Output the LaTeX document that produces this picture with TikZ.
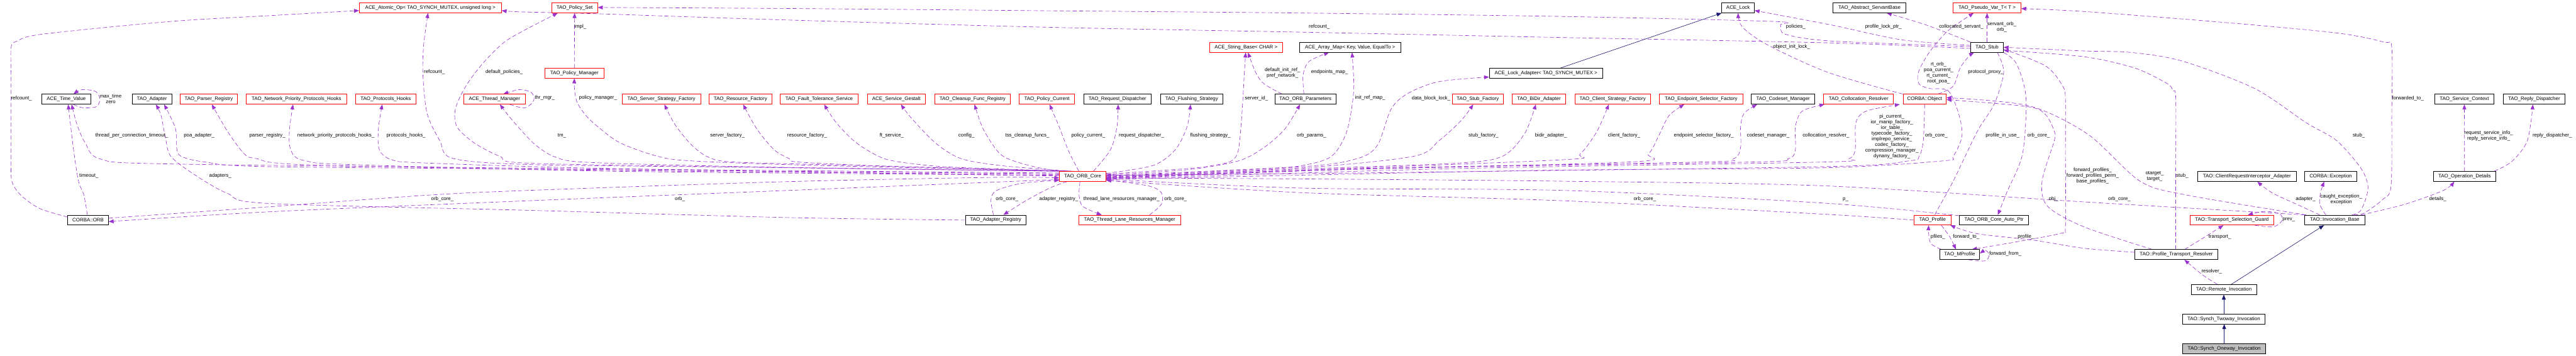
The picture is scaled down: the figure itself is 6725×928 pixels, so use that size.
\documentclass[tikz,border=0pt]{standalone}
\usepackage{fontspec}
\setmainfont{Liberation Sans}
\usetikzlibrary{arrows.meta,calc}
\pgfdeclarelayer{edges}
\pgfsetlayers{edges,main}
\definecolor{depc}{RGB}{154,50,205}
\definecolor{inhc}{RGB}{25,25,112}
\definecolor{greyfill}{RGB}{191,191,191}
\tikzset{
  box/.style={draw=black, line width=1.1pt, fill=white, rectangle, minimum height=26pt, inner xsep=1pt, inner ysep=0pt, font=\fontsize{13}{15}\selectfont, text=black},
  rbox/.style={box, draw=red},
  gbox/.style={box, fill=greyfill},
  dep/.style={draw=depc, line width=1.05pt, dash pattern=on 11pt off 6pt, -{Triangle[length=13pt,width=10pt]}},
  inh/.style={draw=inhc, line width=1.05pt, -{Triangle[length=13pt,width=10pt]}},
  lbl/.style={font=\fontsize{13}{14.8}\selectfont, inner sep=0pt, align=center, text=black},
}
\newcommand{\dedge}[1]{\draw[dep] plot[smooth,tension=0.5] coordinates {#1};}
\begin{document}
\begin{tikzpicture}[x=1pt,y=-1pt]
\useasboundingbox (0,0) rectangle (6725,928);
% ---------- row 0
\node[rbox,minimum width=371pt] (atomic) at (1123.5,20.5) {ACE\_Atomic\_Op< TAO\_SYNCH\_MUTEX, unsigned long >};
\node[rbox,minimum width=120pt] (pset) at (1500,20.5) {TAO\_Policy\_Set};
\node[box,minimum width=85pt] (acelock) at (4537.5,20.5) {ACE\_Lock};
\node[box,minimum width=191pt] (servant) at (4880.5,20.5) {TAO\_Abstract\_ServantBase};
\node[rbox,minimum width=177pt] (pvar) at (5187.5,20.5) {TAO\_Pseudo\_Var\_T< T >};
% ---------- row 1
\node[rbox,minimum width=192pt] (strbase) at (3253,123.5) {ACE\_String\_Base< CHAR >};
\node[box,minimum width=265pt] (amap) at (3524.5,123.5) {ACE\_Array\_Map< Key, Value, EqualTo >};
\node[box,minimum width=85pt] (stub) at (5187.5,123.5) {TAO\_Stub};
% ---------- row 2
\node[rbox,minimum width=153pt] (pmgr) at (1499.5,191) {TAO\_Policy\_Manager};
\node[box,minimum width=296pt] (lockad) at (4036,191) {ACE\_Lock\_Adapter< TAO\_SYNCH\_MUTEX >};
% ---------- row 3
\node[box,minimum width=128pt] (tv) at (173,259) {ACE\_Time\_Value};
\node[box,minimum width=103pt] (adapter) at (396.5,259) {TAO\_Adapter};
\node[rbox,minimum width=150pt] (parser) at (545,259) {TAO\_Parser\_Registry};
\node[rbox,minimum width=262pt] (nethooks) at (774,259) {TAO\_Network\_Priority\_Protocols\_Hooks};
\node[rbox,minimum width=156pt] (phooks) at (1007,259) {TAO\_Protocols\_Hooks};
\node[rbox,minimum width=160pt] (thrmgr) at (1291,259) {ACE\_Thread\_Manager};
\node[rbox,minimum width=205pt] (ssf) at (1726.5,259) {TAO\_Server\_Strategy\_Factory};
\node[rbox,minimum width=164pt] (resf) at (1933,259) {TAO\_Resource\_Factory};
\node[rbox,minimum width=203pt] (fts) at (2138.5,259) {TAO\_Fault\_Tolerance\_Service};
\node[rbox,minimum width=152pt] (gestalt) at (2340,259) {ACE\_Service\_Gestalt};
\node[rbox,minimum width=198pt] (cleanup) at (2539,259) {TAO\_Cleanup\_Func\_Registry};
\node[rbox,minimum width=144pt] (pcur) at (2733,259) {TAO\_Policy\_Current};
\node[box,minimum width=176pt] (reqd) at (2917,259) {TAO\_Request\_Dispatcher};
\node[box,minimum width=164pt] (flush) at (3111,259) {TAO\_Flushing\_Strategy};
\node[box,minimum width=160pt] (oparams) at (3408,259) {TAO\_ORB\_Parameters};
\node[rbox,minimum width=134pt] (stubf) at (3858,259) {TAO\_Stub\_Factory};
\node[rbox,minimum width=139pt] (bidir) at (4017.5,259) {TAO\_BiDir\_Adapter};
\node[rbox,minimum width=198pt] (csf) at (4210,259) {TAO\_Client\_Strategy\_Factory};
\node[rbox,minimum width=218pt] (esf) at (4441,259) {TAO\_Endpoint\_Selector\_Factory};
\node[box,minimum width=166pt] (codeset) at (4655,259) {TAO\_Codeset\_Manager};
\node[rbox,minimum width=182pt] (colres) at (4852,259) {TAO\_Collocation\_Resolver};
\node[rbox,minimum width=113pt] (object) at (5024.5,259) {CORBA::Object};
\node[box,minimum width=155pt] (svcctx) at (6433.5,259) {TAO\_Service\_Context};
\node[box,minimum width=161pt] (replyd) at (6615.5,259) {TAO\_Reply\_Dispatcher};
% ---------- row 4
\node[rbox,minimum width=121pt] (core) at (2826.5,460.5) {TAO\_ORB\_Core};
\node[box,minimum width=258pt] (cria) at (5866,460.5) {TAO::ClientRequestInterceptor\_Adapter};
\node[box,minimum width=135pt] (exc) at (6084.5,460.5) {CORBA::Exception};
\node[box,minimum width=164pt] (opdet) at (6434,460.5) {TAO\_Operation\_Details};
% ---------- row 5
\node[box,minimum width=106pt] (orb) at (230,574.5) {CORBA::ORB};
\node[box,minimum width=159pt] (areg) at (2599.5,574.5) {TAO\_Adapter\_Registry};
\node[rbox,minimum width=266pt] (tlrm) at (2949,574.5) {TAO\_Thread\_Lane\_Resources\_Manager};
\node[rbox,minimum width=96pt] (profile) at (5045,574.5) {TAO\_Profile};
\node[box,minimum width=181pt] (autoptr) at (5205.5,574.5) {TAO\_ORB\_Core\_Auto\_Ptr};
\node[rbox,minimum width=219pt] (tsg) at (5826.5,574.5) {TAO::Transport\_Selection\_Guard};
\node[box,minimum width=156pt] (invb) at (6095,574.5) {TAO::Invocation\_Base};
% ---------- rows 6-9
\node[box,minimum width=104pt] (mprof) at (5116,664.5) {TAO\_MProfile};
\node[box,minimum width=217pt] (ptr) at (5681.5,664.5) {TAO::Profile\_Transport\_Resolver};
\node[box,minimum width=171pt] (remote) at (5805.5,755.5) {TAO::Remote\_Invocation};
\node[box,minimum width=215pt] (twoway) at (5805.5,832.5) {TAO::Synch\_Twoway\_Invocation};
\node[gbox,minimum width=217pt] (oneway) at (5806.5,910.5) {TAO::Synch\_Oneway\_Invocation};

% ---------- edge labels
\node[lbl] (lb1) at (344,354) {thread\_per\_connection\_timeout\_};
\node[lbl] (lb2) at (520,354) {poa\_adapter\_};
\node[lbl] (lb3) at (698,354) {parser\_registry\_};
\node[lbl] (lb4) at (877,354) {network\_priority\_protocols\_hooks\_};
\node[lbl] (lb5) at (1060,354) {protocols\_hooks\_};
\node[lbl] (lb6) at (1134,188) {refcount\_};
\node[lbl] (lb7) at (1316,188) {default\_policies\_};
\node[lbl] (lb8) at (1422,256) {thr\_mgr\_};
\node[lbl] (lb9) at (1467,354) {tm\_};
\node[lbl] (lb10) at (1515,70) {impl\_};
\node[lbl] (lb11) at (1561,256) {policy\_manager\_};
\node[lbl] (lb12) at (1899,354) {server\_factory\_};
\node[lbl] (lb13) at (2107,354) {resource\_factory\_};
\node[lbl] (lb14) at (2328,354) {ft\_service\_};
\node[lbl] (lb15) at (2523,354) {config\_};
\node[lbl] (lb16) at (2682,354) {tss\_cleanup\_funcs\_};
\node[lbl] (lb17) at (2841,354) {policy\_current\_};
\node[lbl] (lb18) at (2980,354) {request\_dispatcher\_};
\node[lbl] (lb19) at (3160,354) {flushing\_strategy\_};
\node[lbl] (lb20) at (3280,256) {server\_id\_};
\node[lbl] (lb21) at (3348,190) {default\_init\_ref\_\\pref\_network\_};
\node[lbl] (lb22) at (3471,188) {endpoints\_map\_};
\node[lbl] (lb23) at (3577,256) {init\_ref\_map\_};
\node[lbl] (lb24) at (3424,354) {orb\_params\_};
\node[lbl] (lb25) at (3736,256) {data\_block\_lock\_};
\node[lbl] (lb26) at (3873,354) {stub\_factory\_};
\node[lbl] (lb27) at (4049,354) {bidir\_adapter\_};
\node[lbl] (lb28) at (4240,354) {client\_factory\_};
\node[lbl] (lb29) at (4448,354) {endpoint\_selector\_factory\_};
\node[lbl] (lb30) at (4616,354) {codeset\_manager\_};
\node[lbl] (lb31) at (4767,354) {collocation\_resolver\_};
\node[lbl] (lb32) at (4939,355.5) {pi\_current\_\\ior\_manip\_factory\_\\ior\_table\_\\typecode\_factory\_\\implrepo\_service\_\\codec\_factory\_\\compression\_manager\_\\dynany\_factory\_};
\node[lbl] (lb33) at (5055,354) {orb\_core\_};
\node[lbl] (lb34) at (5061,190) {rt\_orb\_\\poa\_current\_\\rt\_current\_\\root\_poa\_};
\node[lbl] (lb35) at (5120,70) {collocated\_servant\_};
\node[lbl] (lb36) at (5226,71) {servant\_orb\_\\orb\_};
\node[lbl] (lb37) at (4917,70) {profile\_lock\_ptr\_};
\node[lbl] (lb38) at (4688,70) {policies\_};
\node[lbl] (lb39) at (3444,70) {refcount\_};
\node[lbl] (lb40) at (4677,122) {object\_init\_lock\_};
\node[lbl] (lb41) at (5184,188) {protocol\_proxy\_};
\node[lbl] (lb42) at (5228,354) {profile\_in\_use\_};
\node[lbl] (lb43) at (5322,354) {orb\_core\_};
\node[lbl] (lb44) at (5463,459.5) {forward\_profiles\_\\forward\_profiles\_perm\_\\base\_profiles\_};
\node[lbl] (lb45) at (5361,520) {obj\_};
\node[lbl] (lb46) at (5625,460) {otarget\_\\target\_};
\node[lbl] (lb47) at (5697,459) {stub\_};
\node[lbl] (lb48) at (6158,354) {stub\_};
\node[lbl] (lb49) at (6286,256) {forwarded\_to\_};
\node[lbl] (lb50) at (5533,520) {orb\_core\_};
\node[lbl] (lb51) at (4818,520) {p\_};
\node[lbl] (lb52) at (4294,520) {orb\_core\_};
\node[lbl] (lb53) at (6019,520) {adapter\_};
\node[lbl] (lb54) at (6112,521) {caught\_exception\_\\exception};
\node[lbl] (lb55) at (6364,520) {details\_};
\node[lbl] (lb56) at (6497,355) {request\_service\_info\_\\reply\_service\_info\_};
\node[lbl] (lb57) at (6663,354) {reply\_dispatcher\_};
\node[lbl] (lb58) at (5975,573) {prev\_};
\node[lbl] (lb59) at (5795,618) {transport\_};
\node[lbl] (lb60) at (5289,618) {profile\_};
\node[lbl] (lb61) at (5059,618) {pfiles\_};
\node[lbl] (lb62) at (5133,618) {forward\_to\_};
\node[lbl] (lb63) at (5235,663) {forward\_from\_};
\node[lbl] (lb64) at (5774,708) {resolver\_};
\node[lbl] (lb65) at (56,256) {refcount\_};
\node[lbl] (lb66) at (289,257.5) {max\_time\\zero};
\node[lbl] (lb67) at (232,459) {timeout\_};
\node[lbl] (lb68) at (575,459) {adapters\_};
\node[lbl] (lb69) at (1155,520) {orb\_core\_};
\node[lbl] (lb70) at (1775,520) {orb\_};
\node[lbl] (lb71) at (2764,520) {adapter\_registry\_};
\node[lbl] (lb72) at (2629,520) {orb\_core\_};
\node[lbl] (lb73) at (2928,520) {thread\_lane\_resources\_manager\_};
\node[lbl] (lb74) at (3069,520) {orb\_core\_};

\begin{pgfonlayer}{edges}
% ORB_Core fan to the left
\dedge{($(core.west)+(0,-9)$) (1600,441) (446,428) (262,415) (222,372) (201,325) ($(tv.south)+(14,0)$)}
\dedge{($(core.west)+(0,-7)$) (1600,443) (700,435) (536,423) (473,408) (461,385) (458,335) ($(adapter.south)+(32,0)$)}
\dedge{($(core.west)+(0,-5)$) (1600,445) (800,430) (670,414) (638,402) (594,343) ($(parser.south)+(8,0)$)}
\dedge{($(core.west)+(0,-3)$) (1600,447) (900,429) (800,420) (769,408) (756,380) (756,335) ($(nethooks.south)+(-9,0)$)}
\dedge{($(core.west)+(0,-1)$) (1600,440) (1100,425) (1020,416) (990,390) (988,335) ($(phooks.south)+(-9,0)$)}
\dedge{($(core.north west)+(4,0)$) (2000,437) (1400,430) (1184,414) (1148,367) (1115,296) (1104,195) (1106,118) ($(atomic.south)+(-6,0)$)}
\dedge{($(core.north west)+(8,0)$) (2000,437) (1380,426) (1305,408) (1238,373) (1193,331) (1189,284) (1216,225) (1260,166) (1314,112) (1367,80) ($(pset.south)+(-44,0)$)}
\dedge{($(core.north west)+(12,0)$) (2000,436) (1540,424) (1450,410) (1400,380) (1365,345) (1330,305) ($(thrmgr.south)+(14,0)$)}
\dedge{($(thrmgr.south)+(40,0)$) (1368,282) (1390,268) (1394,254) (1385,240) (1355,234) ($(thrmgr.north)+(23,0)$)}
\dedge{($(core.north west)+(16,0)$) (2100,431) (1806,420) (1717,408) (1619,373) (1561,331) (1530,302) (1507,268) (1500,235) (pmgr.south)}
\draw[dep] (pmgr.north) -- (pset.south);
\dedge{($(core.north west)+(20,0)$) (2200,431) (1918,423) (1851,411) (1806,379) (1762,325) ($(ssf.south)+(8,0)$)}
\dedge{($(core.north west)+(24,0)$) (2300,433) (2085,423) (2060,414) (2021,391) (1976,337) ($(resf.south)+(7,0)$)}
\dedge{($(core.north west)+(28,0)$) (2500,437) (2397,429) (2308,414) (2236,373) (2183,320) ($(fts.south)+(13,0)$)}
\dedge{($(core.north west)+(32,0)$) (2620,433) (2509,414) (2442,373) (2379,308) ($(gestalt.south)+(12,0)$)}
\dedge{($(core.north west)+(38,0)$) (2740,443) (2665,426) (2611,402) (2567,337) ($(cleanup.south)+(5,0)$)}
\dedge{($(core.north)+(-10,0)$) (2790,395) (2765,331) ($(pcur.south)+(7,0)$)}
% ORB_Core fan to the right
\dedge{($(core.north)+(28,0)$) (2899,391) (2916,331) ($(reqd.south)+(2,0)$)}
\dedge{($(core.east)+(0,-8)$) (3010,432) (3068,391) (3099,331) ($(flush.south)+(-3,0)$)}
\dedge{($(core.east)+(0,-6)$) (3100,440) (3166,432) (3215,420) (3233,391) (3242,300) (3248,200) ($(strbase.south)+(-1,0)$)}
\dedge{($(core.east)+(0,-4)$) (3100,443) (3233,420) (3300,385) (3354,337) ($(oparams.south)+(-14,0)$)}
\dedge{($(oparams.north)+(-61,0)$) (3300,219) (3278,189) ($(strbase.south)+(5,0)$)}
\dedge{($(oparams.north)+(-4,0)$) (3402,195) (3418,160) ($(amap.south)+(-55,0)$)}
\dedge{($(core.east)+(0,-2)$) (3300,440) (3400,432) (3476,408) (3516,343) (3534,237) ($(amap.south)+(5,0)$)}
\dedge{($(core.east)+(0,0)$) (3400,435) (3543,414) (3596,379) (3632,284) (3677,243) (3757,213) ($(lockad.west)+(0,10)$)}
\dedge{($(core.east)+(0,1)$) (3400,438) (3690,408) (3757,367) (3815,314) ($(stubf.south)+(-12,0)$)}
\dedge{($(core.east)+(0,2)$) (3400,441) (3802,426) (3922,408) (3980,349) ($(bidir.south)+(-8,0)$)}
\dedge{($(core.east)+(0,3)$) (3400,444) (4080,417) (4125,402) (4169,343) ($(csf.south)+(-10,0)$)}
\dedge{($(core.east)+(0,4)$) (3400,446) (4250,423) (4303,402) (4330,355) (4357,302) ($(esf.south)+(-44,0)$)}
\dedge{($(core.east)+(0,5)$) (3500,441) (4437,423) (4526,414) (4544,385) (4544,331) (4553,296) ($(codeset.south)+(-68,0)$)}
\dedge{($(core.east)+(0,6)$) (3600,440) (4571,423) (4669,414) (4687,391) (4687,331) (4705,290) ($(colres.south)+(-89,0)$)}
\dedge{($(core.east)+(0,7)$) (3800,440) (4760,423) (4827,414) (4843,391) (4845,320) (4872,290) ($(object.south)+(-65,0)$)}
\dedge{(object.south) (5021,367) (5010,408) (4983,420) (4760,435) (3500,452) ($(core.east)+(0,-3)$)}
\dedge{($(core.east)+(0,8)$) (4000,445) (4760,438) (5072,420) (5099,408) (5122,355) (5113,296) (5086,237) (5037,231) (5010,219) (5008,189) (5037,136) (5086,80) ($(pvar.south)+(-35,0)$)}
% CORBA::ORB and neighbours
\dedge{($(orb.west)+(0,-8)$) (103,544) (54,509) (31,473) (29,414) (29,300) (29,200) (29,124) (45,107) (112,89) (446,56) (700,41) ($(atomic.west)+(0,7)$)}
\dedge{($(orb.north)+(-2,0)$) (219,509) (205,473) (192,391) ($(tv.south)+(5,0)$)}
\dedge{($(tv.south)+(19,0)$) (214,281) (250,279) (261,260) (250,239) (214,234) ($(tv.north)+(19,0)$)}
\dedge{(areg.west) (2060,568) (1380,549) (700,531) (594,505) (508,456) (446,408) (432,360) (420,300) ($(adapter.south)+(10,0)$)}
\dedge{($(orb.east)+(0,-5)$) (700,540) (1108,510) (1380,497) (2060,474) (2600,463) ($(core.west)+(0,4)$)}
\dedge{($(core.west)+(0,8)$) (2060,497) (1380,524) (700,553) ($(orb.east)+(0,4)$)}
\dedge{($(core.south west)+(20,0)$) (2740,491) (2678,524) ($(areg.north)+(20,0)$)}
\dedge{($(areg.north)+(-6,0)$) (2587,521) (2602,497) (2665,479) (2740,472) ($(core.west)+(0,10)$)}
\dedge{($(core.south)+(-7,0)$) (2817,509) (2827,539) ($(tlrm.north)+(-73,0)$)}
\dedge{($(tlrm.north)+(52,0)$) (3032,533) (3032,503) (2997,485) ($(core.east)+(0,9)$)}
% back edges into ORB_Core
\dedge{(invb.north west) (5440,527) (4760,485) (4080,473) (3400,467) ($(core.east)+(0,4)$)}
\dedge{($(autoptr.north west)+(0,2)$) (4760,530) (4080,497) (3400,491) ($(core.east)+(0,7)$)}
\dedge{(profile.west) (4760,559) (4080,524) (3400,503) ($(core.east)+(0,10)$)}
% TAO_Stub
\dedge{($(stub.south)+(27,0)$) (5231,189) (5206,272) (5162,343) (5099,473) (5055,553) ($(profile.north)+(7,0)$)}
\dedge{(stub.south east) (5264,166) (5289,254) (5280,402) (5240,500) ($(autoptr.north)+(10,0)$)}
\dedge{($(stub.east)+(0,5)$) (5340,172) (5385,225) (5392,260) (5392,400) (5392,592) (5380,609) (5260,632) ($(mprof.north)+(32,0)$)}
\dedge{($(object.north)+(35,0)$) (5099,225) (5117,178) (5139,148) ($(stub.south)+(-34,0)$)}
\dedge{(stub.north west) (5028,65) ($(servant.south)+(45,0)$)}
\draw[dep] (stub.north) -- (pvar.south);
\dedge{($(stub.west)+(0,-5)$) (4965,104) (4780,65) ($(acelock.east)+(0,7)$)}
\dedge{($(stub.west)+(0,-2)$) (4780,107) (4660,89) (4648,65) (4630,56) (4080,43) (3400,34) (2728,28) (2040,22) ($(pset.east)+(0,-1)$)}
\dedge{($(stub.west)+(0,3)$) (4780,112) (4080,98) (3400,84) (2728,71) (2049,52) (1561,36) (1360,31) ($(atomic.east)+(0,7)$)}
\dedge{(object.north west) (4772,189) (4616,118) (4549,71) (acelock.south)}
\draw[inh] ($(lockad.north)+(38,0)$) -- (acelock.south west);
% invocation side
\dedge{($(ptr.north west)+(46,0)$) (5440,592) (5345,538) (5331,473) (5363,367) (5363,343) (5340,299) (5291,278) ($(object.east)+(0,1)$)}
\dedge{($(invb.north west)+(4,0)$) (5708,509) (5587,473) (5450,350) (5296,276) ($(object.east)+(0,-4)$)}
\dedge{($(invb.north)+(45,0)$) (6164,548) (6182,491) (6164,440) (6100,367) (6020,320) (5886,231) (5699,160) (5565,137) (5440,133) (stub.east)}
\dedge{($(ptr.north)+(-1.5,0)$) (5680,450) (5680,254) (5672,237) (5659,219) (5574,178) (5440,148) ($(stub.east)+(0,8)$)}
\dedge{($(invb.north)+(50,0)$) (6172,556) (6220,521) (6242,486) (6244,300) (6244,124) (6224,110) (6100,86) (5800,58) (5440,30) ($(pvar.east)+(0,2)$)}
\dedge{($(ptr.north)+(22,0)$) (5752,621) ($(tsg.south)+(-22,0)$)}
\dedge{($(tsg.south)+(60,0)$) (5935,592) (5958,575) (5950,557) (5910,552) ($(tsg.north)+(42,0)$)}
\dedge{($(ptr.west)+(0,-6)$) (5440,648) (5309,627) (5162,610) ($(profile.south east)+(-2,0)$)}
\dedge{($(mprof.north west)+(4,0)$) (5041,636) (5035,610) ($(profile.south)+(-10,0)$)}
\dedge{($(profile.south)+(23,0)$) (5090,618) ($(mprof.north)+(-10,0)$)}
\dedge{($(mprof.south)+(23,0)$) (5182,681) (5193,666) (5184,654) ($(mprof.east)+(0,-3)$)}
\dedge{($(remote.north)+(-17,0)$) (5752,719) ($(ptr.south)+(21,0)$)}
\draw[inh] ($(remote.north)+(20,0)$) -- ($(invb.south)+(-28,0)$);
\draw[inh] (twoway.north) -- (remote.south);
\draw[inh] (oneway.north) -- (oneway.north |- twoway.south);
\dedge{($(invb.north)+(-39,0)$) (6002,536) (5931,503) ($(cria.south)+(27,0)$)}
\dedge{($(invb.north)+(-23,0)$) (6056,533) (6058,503) ($(exc.south)+(-17,0)$)}
\dedge{($(invb.north east)+(-9,0)$) (6279,533) (6379,497) ($(opdet.south)+(-27,0)$)}
\draw[dep] (opdet.north) -- (svcctx.south);
\dedge{($(opdet.north east)+(-5,0)$) (6558,421) (6598,367) ($(replyd.south)+(-3,0)$)}
\end{pgfonlayer}
\end{tikzpicture}
\end{document}
